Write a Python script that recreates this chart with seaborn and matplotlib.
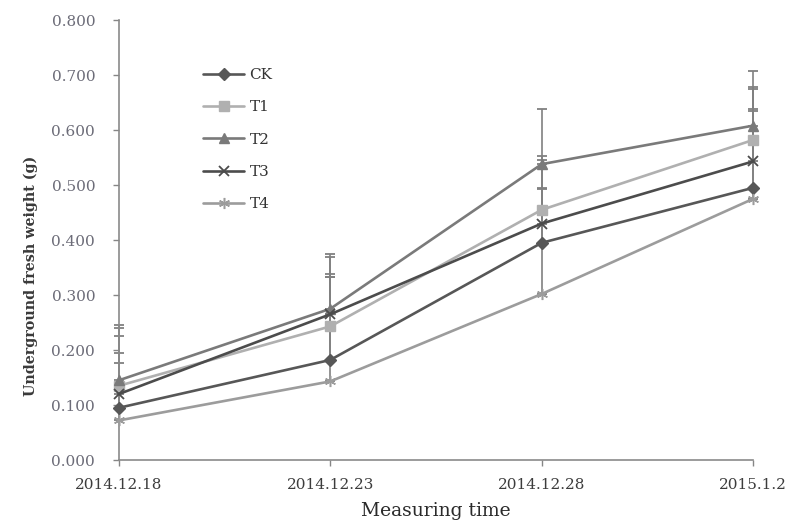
import matplotlib
matplotlib.use("Agg")
import matplotlib.pyplot as plt
import seaborn as sns
import pandas as pd
import numpy as np
from matplotlib.lines import Line2D

dates = ["2014.12.18", "2014.12.23", "2014.12.28", "2015.1.2"]
groups = ["CK", "T1", "T2", "T3", "T4"]
ck = [0.095, 0.182, 0.395, 0.495]
t1 = [0.135, 0.243, 0.455, 0.582]
t2 = [0.145, 0.275, 0.538, 0.608]
t3 = [0.120, 0.265, 0.430, 0.543]
t4 = [0.072, 0.143, 0.302, 0.475]
ck_err = [0.100, 0.150, 0.150, 0.140]
t1_err = [0.105, 0.095, 0.097, 0.096]
t2_err = [0.100, 0.100, 0.100, 0.100]
t3_err = [0.105, 0.105, 0.064, 0.096]
t4_err = [0.105, 0.190, 0.190, 0.200]

values = {"CK": ck, "T1": t1, "T2": t2, "T3": t3, "T4": t4}
errors = {"CK": ck_err, "T1": t1_err, "T2": t2_err, "T3": t3_err, "T4": t4_err}

rows = []
for g in groups:
    for i, d in enumerate(dates):
        rows.append({"idx": i, "date": d, "group": g, "value": values[g][i], "err": errors[g][i]})
df = pd.DataFrame(rows)

sns.set_theme(style="white")
plt.rcParams["font.family"] = ["DejaVu Serif", "Liberation Serif"]

colors = {"CK": "#575757", "T1": "#b0b0b0", "T2": "#7a7a7a", "T3": "#4c4c4c", "T4": "#9c9c9c"}
markers = {"CK": "D", "T1": "s", "T2": "^", "T3": "x", "T4": (6, 2, 0)}
msize = {"CK": 5.8, "T1": 7.2, "T2": 6.8, "T3": 7, "T4": 8}
mew = {"CK": 1.0, "T1": 1.0, "T2": 1.0, "T3": 1.3, "T4": 1.1}

fig = plt.figure(figsize=(7.92, 5.27), dpi=100)
ax = fig.add_axes([0.150, 0.127, 0.801, 0.835])

# error bars (upper only)
for g in groups:
    sub = df[df.group == g]
    eb = ax.errorbar(sub["idx"], sub["value"], yerr=[np.zeros(len(sub)), sub["err"]],
                     fmt="none", ecolor="#808080", elinewidth=1.2, capsize=3.5, capthick=1.3, zorder=2)
    for art in eb.lines[1] + eb.lines[2]:
        art.set_clip_on(False)

for g in groups:
    sub = df[df.group == g]
    sns.lineplot(data=sub, x="idx", y="value", color=colors[g], marker=markers[g],
                 markersize=msize[g], markeredgewidth=mew[g], markeredgecolor=colors[g],
                 linewidth=1.9, ax=ax, legend=False, zorder=3, clip_on=False)

ax.set_xlim(0, 3)
ax.set_ylim(0, 0.8)
ax.set_xticks(range(len(dates)))
ax.set_xticklabels(dates)
ax.set_yticks(np.arange(0, 0.81, 0.1))
ax.yaxis.set_major_formatter(matplotlib.ticker.FormatStrFormatter("%.3f"))
ax.tick_params(axis="both", which="major", length=4, width=1, color="#868686",
               labelsize=11, direction="out", bottom=True, left=True)
ax.tick_params(axis="x", pad=9, labelcolor="#3c3c3c")
ax.tick_params(axis="y", pad=13, labelcolor="#6c6c78")
for s in ["top", "right"]:
    ax.spines[s].set_visible(False)
for s in ["left", "bottom"]:
    ax.spines[s].set_color("#8a8a8a")
    ax.spines[s].set_linewidth(1.2)

ax.set_xlabel("Measuring time", fontsize=13.5, color="#2a2a2a", labelpad=7)
ax.set_ylabel("Underground fresh weight (g)", fontsize=10.3, fontweight="bold", color="#3a3a3a")
ax.yaxis.set_label_coords(-0.128, 0.418)

handles = [Line2D([0], [0], color=colors[g], marker=markers[g], linewidth=1.9,
                  markersize=msize[g], markeredgecolor=colors[g], markeredgewidth=mew[g]) for g in groups]
ax.legend(handles, groups, loc="upper left", bbox_to_anchor=(203 / 792, 1 - 68 / 527),
          bbox_transform=fig.transFigure, frameon=False, borderpad=0, borderaxespad=0,
          fontsize=11, handlelength=2.7, labelspacing=1.2, handletextpad=0.35,
          labelcolor="#333333")

fig.savefig("out.png", dpi=100)
